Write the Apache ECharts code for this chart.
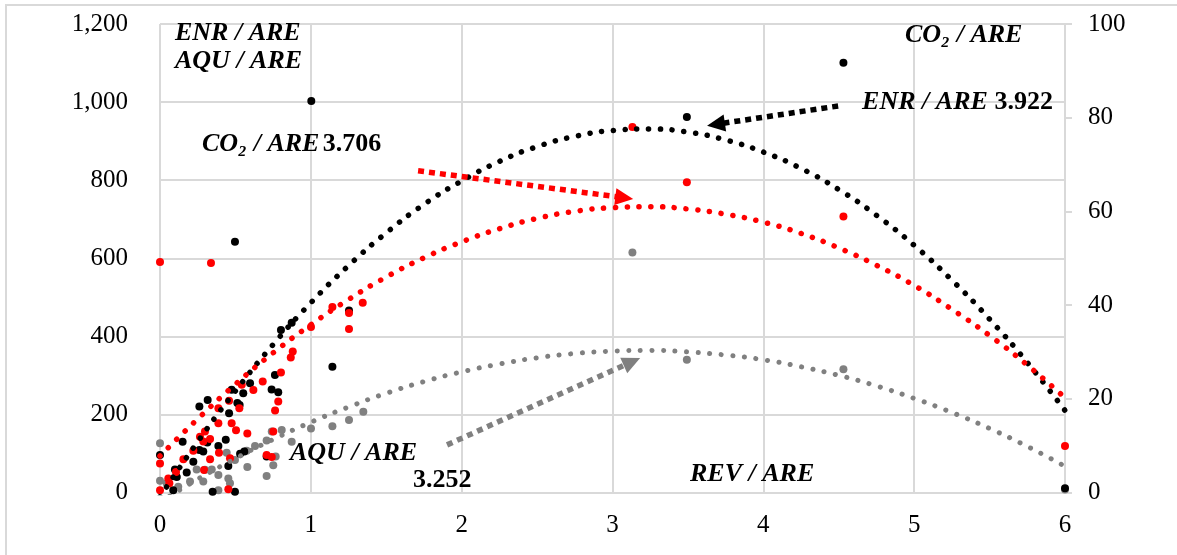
<!DOCTYPE html>
<html>
<head>
<meta charset="utf-8">
<title>REV / ARE</title>
<script src="https://cdn.jsdelivr.net/npm/echarts@6/dist/echarts.min.js"></script>
<style>
  html, body { margin: 0; padding: 0; background: #fff; }
  #chart { width: 1177px; height: 555px; }
</style>
</head>
<body>
<div id="chart"></div>
<script>
// scatter points [REV/ARE, value]
var enrPoints = [
  [0.000, 96], [0.088, 6], [0.099, 59], [0.111, 40], [0.150, 130], [0.177, 51], [0.221, 79],
  [0.261, 109], [0.261, 220], [0.287, 105], [0.314, 128], [0.316, 237], [0.349, 2], [0.387, 119],
  [0.436, 135], [0.453, 68], [0.458, 203], [0.475, 263], [0.497, 2], [0.497, 642], [0.513, 229],
  [0.528, 224], [0.531, 99], [0.552, 254], [0.559, 105], [0.597, 280], [0.707, 92], [0.740, 264],
  [0.762, 301], [0.784, 257], [0.802, 416], [0.873, 435], [1.003, 1003], [1.143, 322],
  [1.253, 466], [3.493, 962], [4.531, 1101], [6.000, 11]
];
var co2Points = [
  [0.000, 0.5], [0.000, 6.2], [0.000, 49.2], [0.055, 3.0], [0.062, 2.0], [0.106, 4.4], [0.155, 7.1],
  [0.221, 8.9], [0.265, 11.9], [0.287, 10.9], [0.292, 4.8], [0.298, 13.0], [0.332, 11.4], [0.332, 7.1],
  [0.338, 49.0], [0.387, 18.0], [0.387, 14.8], [0.391, 8.5], [0.453, 0.7], [0.458, 19.6], [0.464, 7.3],
  [0.475, 14.8], [0.504, 13.3], [0.526, 18.0], [0.542, 23.0], [0.579, 12.6], [0.619, 21.9], [0.681, 23.7],
  [0.707, 8.0], [0.741, 7.6], [0.751, 13.0], [0.763, 17.5], [0.784, 19.4], [0.802, 25.6], [0.867, 28.8],
  [0.880, 30.1], [1.001, 35.3], [1.143, 39.6], [1.253, 34.9], [1.253, 38.3], [1.344, 40.5],
  [3.132, 78.0], [3.493, 66.2], [4.531, 58.9], [6.000, 9.9]
];
var aquPoints = [
  [0.000, 126], [0.000, 30], [0.044, 24], [0.121, 15], [0.199, 28], [0.243, 59], [0.287, 28],
  [0.298, 58], [0.343, 59], [0.387, 45], [0.387, 6], [0.442, 102], [0.453, 36], [0.464, 24],
  [0.497, 83], [0.575, 107], [0.579, 65], [0.630, 119], [0.707, 133], [0.707, 42], [0.741, 156],
  [0.751, 70], [0.767, 92], [0.807, 160], [0.873, 130], [1.001, 164], [1.143, 170], [1.253, 186],
  [1.348, 207], [3.132, 615], [3.493, 340], [4.531, 316], [6.000, 8]
];

// dotted trend lines
var trendX   = [0, 0.25, 0.5, 0.75, 1, 1.25, 1.5, 1.75, 2, 2.25, 2.5, 2.75, 3, 3.25, 3.5, 3.75, 4, 4.25, 4.5, 4.75, 5, 5.25, 5.5, 5.75, 6];
var enrTrend = [-11, 130, 260, 379, 486, 581, 665, 738, 798, 848, 886, 912, 927, 931, 923, 903, 872, 830, 776, 710, 633, 544, 444, 333, 210];
var co2Trend = [7.8, 15.7, 23.1, 29.8, 35.8, 41.2, 46.0, 50.1, 53.5, 56.3, 58.5, 60.0, 60.8, 61.0, 60.5, 59.4, 57.7, 55.3, 52.2, 48.5, 44.2, 39.1, 33.5, 27.2, 20.2];
var aquTrend = [-25, 34, 87, 136, 180, 219, 254, 284, 309, 329, 345, 356, 362, 364, 360, 352, 340, 322, 300, 273, 241, 205, 164, 118, 67];

var xTicks = { min: 0, max: 6, step: 1 };
var leftTicks = { min: 0, max: 1200, step: 200 };
var rightTicks = { min: 0, max: 100, step: 20 };

function pairs(xs, ys) {
  var out = [];
  for (var i = 0; i < xs.length; i++) out.push([xs[i], ys[i]]);
  return out;
}

var serif = '"Liberation Serif", "Times New Roman", serif';
var gridGray = '#d9d9d9';

var myChart = echarts.init(document.getElementById('chart'));

function dotted(color, w, gap) {
  return { color: color, width: w, type: [0.1, gap], cap: 'round', opacity: 1 };
}

function arrow(x1, y1, x2, y2, color) {
  var ls = { color: color, width: 5.5, type: [6, 5], cap: 'butt', opacity: 1 };
  return [{ coord: [x1, y1], lineStyle: ls }, { coord: [x2, y2], lineStyle: ls }];
}

function label(x, y, rich, text, align) {
  return {
    type: 'text', x: x, y: y, silent: true, z: 100,
    style: { text: text, rich: rich, align: align || 'left', verticalAlign: 'middle', fill: '#000' }
  };
}

var rich = {
  b: { fontFamily: serif, fontSize: 26, fontWeight: 'bold', fontStyle: 'italic', fill: '#000' },
  n: { fontFamily: serif, fontSize: 26, fontWeight: 'bold', fill: '#000' }
};

option = {
  animation: false,
  backgroundColor: '#fff',
  grid: { left: 160, right: 112, top: 24, bottom: 62.5, containLabel: false, outerBoundsMode: 'none' },
  xAxis: {
    type: 'value', min: xTicks.min, max: xTicks.max, interval: xTicks.step,
    axisLine: { show: true, lineStyle: { color: gridGray, width: 2 } },
    axisTick: { show: false },
    axisLabel: { color: '#000', fontFamily: serif, fontSize: 25, margin: 20 },
    splitLine: { show: true, lineStyle: { color: gridGray, width: 2 } }
  },
  yAxis: [{
    type: 'value', min: leftTicks.min, max: leftTicks.max, interval: leftTicks.step,
    axisLine: { show: false }, axisTick: { show: false },
    axisLabel: {
      color: '#000', fontFamily: serif, fontSize: 25, margin: 32,
      formatter: function (v) { return v.toLocaleString('en-US'); }
    },
    splitLine: { show: true, lineStyle: { color: gridGray, width: 2 } }
  }, {
    type: 'value', position: 'right', min: rightTicks.min, max: rightTicks.max, interval: rightTicks.step,
    axisLine: { show: true, lineStyle: { color: gridGray, width: 2 } },
    axisTick: { show: true, length: 7, lineStyle: { color: gridGray, width: 2 } },
    axisLabel: { color: '#000', fontFamily: serif, fontSize: 25, margin: 23 },
    splitLine: { show: false }
  }],
  series: [
    { name: 'ENR trend', type: 'line', yAxisIndex: 0, smooth: true, showSymbol: false, silent: true,
      data: pairs(trendX, enrTrend), lineStyle: dotted('#000', 5.5, 11.7) },
    { name: 'CO2 trend', type: 'line', yAxisIndex: 1, smooth: true, showSymbol: false, silent: true,
      data: pairs(trendX, co2Trend), lineStyle: dotted('#ff0000', 5.5, 11.7) },
    { name: 'AQU trend', type: 'line', yAxisIndex: 0, smooth: true, showSymbol: false, silent: true,
      data: pairs(trendX, aquTrend), lineStyle: dotted('#808080', 5, 11.5) },
    { name: 'AQU / ARE', type: 'scatter', yAxisIndex: 0, symbolSize: 8,
      itemStyle: { color: '#808080', opacity: 1 }, data: aquPoints },
    { name: 'ENR / ARE', type: 'scatter', yAxisIndex: 0, symbolSize: 8,
      itemStyle: { color: '#000', opacity: 1 }, data: enrPoints,
      markLine: {
        silent: true, symbol: ['none', 'triangle'], symbolSize: [17, 18],
        label: { show: false }, animation: false,
        data: [
          arrow(1.711, 824, 3.078, 755, '#ff0000'),
          arrow(4.496, 990, 3.686, 943, '#000000'),
          arrow(1.903, 122, 3.129, 335, '#808080')
        ]
      } },
    { name: 'CO2 / ARE', type: 'scatter', yAxisIndex: 1, symbolSize: 8,
      itemStyle: { color: '#ff0000', opacity: 1 }, data: co2Points }
  ],
  graphic: [
    { type: 'rect', silent: true, z: -10, shape: { x: 6, y: 5, width: 1200, height: 600 },
      style: { fill: 'none', stroke: gridGray, lineWidth: 2 } },
    label(175, 33, rich, '{b|ENR / ARE}'),
    label(175, 61, rich, '{b|AQU / ARE}'),
    label(202, 144, rich, '{b|CO₂ / ARE} {n|3.706}'),
    label(905, 35, rich, '{b|CO₂ / ARE}'),
    label(1053, 102, rich, '{b|ENR / ARE}  {n|3.922}', 'right'),
    label(290, 453, rich, '{b|AQU / ARE}'),
    label(413, 480, rich, '{n|3.252}'),
    label(690, 474, rich, '{b|REV / ARE}')
  ]
};
myChart.setOption(option);
</script>
</body>
</html>
